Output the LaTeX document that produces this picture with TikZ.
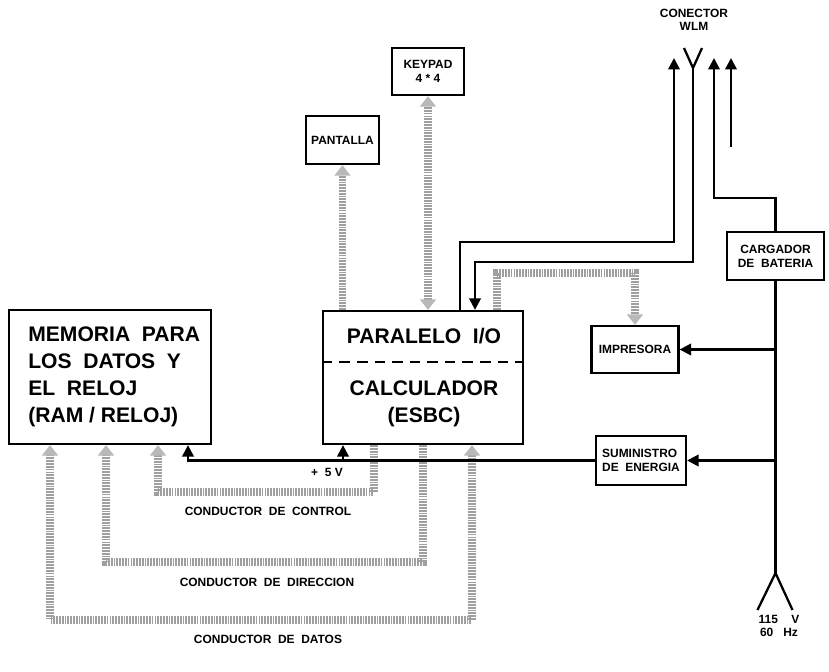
\documentclass[tikz,border=0pt]{standalone}
\usepackage{fontspec}
\setmainfont{Liberation Sans}
\usetikzlibrary{arrows.meta,positioning}

\begin{document}
\begin{tikzpicture}[x=0.02cm, y=-0.02cm,
    blockbox/.style={draw, line width=1.3pt, inner sep=0pt, align=center,
        font=\bfseries\fontsize{6.8}{7.8}\selectfont},
    bigtext/.style={font=\bfseries\fontsize{12}{15.4}\selectfont, inner sep=0pt},
    labeltext/.style={font=\bfseries\fontsize{6.8}{7.6}\selectfont, align=center, inner sep=0pt},
    wireline/.style={line width=1.3pt},
    wirehead/.style={-{Triangle[width=6.5pt,length=6.5pt]}},
    busline/.style={line width=4.2pt, gray!75, dash pattern=on 1pt off 0.6pt},
    busarrow/.style={-{Triangle[width=9pt,length=6pt,color=gray!55]}},
    busboth/.style={{Triangle[width=9pt,length=6pt,color=gray!55]}-{Triangle[width=9pt,length=6pt,color=gray!55]}}
]
    \useasboundingbox (0,0) rectangle (829,672);

    % Main blocks
    \node[blockbox, minimum width=4.04cm, minimum height=2.68cm] (mem) at (110,377) {};
    \node[bigtext, align=left, anchor=west] (memtxt) at (28,377)
        {MEMORIA\ \ PARA\\LOS\ \ DATOS\ \ Y\\EL\ \ RELOJ\\(RAM / RELOJ)};
    \node[blockbox, minimum width=4cm, minimum height=2.66cm] (calc) at (423,377.5) {};
    \draw[line width=1pt, dash pattern=on 6pt off 4pt] (calc.west |- 0,362) -- (calc.east |- 0,362);
    \node[bigtext] (pio) at (424,336) {PARALELO\ \ I/O};
    \node[bigtext, align=center] (esbc) at (424,404) {CALCULADOR\\(ESBC)};

    % Peripheral blocks
    \node[blockbox, minimum width=1.46cm, minimum height=0.96cm] (pant) at (342.5,140) {PANTALLA};
    \node[blockbox, minimum width=1.44cm, minimum height=0.94cm] (keyp) at (428,71.5) {KEYPAD\\4 * 4};
    \node[blockbox, minimum width=1.74cm, minimum height=0.94cm] (impr) at (635,349.5) {IMPRESORA};
    \node[blockbox, minimum width=1.8cm, minimum height=0.98cm, align=left] (sumin) at (641,460.5)
        {SUMINISTRO\\DE\ \ ENERGIA};
    \node[blockbox, minimum width=1.94cm, minimum height=0.96cm] (carg) at (775.5,256)
        {CARGADOR\\DE\ \ BATERIA};

    % Connector and mains labels
    \node[labeltext] (wlm) at (694,20) {CONECTOR\\WLM};
    \node[labeltext] (mains) at (779,626) {115\ \ \ \ V\\60\ \ \ Hz};

    % Data buses (dotted bands)
    \draw[busline, busarrow] (calc.north -| pant.south) -- (pant.south);
    \draw[busline, busboth] (calc.north -| keyp.south) -- (keyp.south);
    \coordinate (prtbend) at (497,273);
    \draw[busline, busarrow] (calc.north -| prtbend) -- (prtbend) -| (impr.north);

    \coordinate (ctlA) at (374,492);
    \coordinate (ctlB) at (158,492);
    \draw[busline, busarrow] (calc.south -| ctlA) -- (ctlA) -- (ctlB) -- (mem.south -| ctlB);
    \coordinate (adrA) at (423,562);
    \coordinate (adrB) at (106,562);
    \draw[busline, busarrow] (calc.south -| adrA) -- (adrA) -- (adrB) -- (mem.south -| adrB);
    \coordinate (datA) at (472,620);
    \coordinate (datB) at (50,620);
    \draw[busline, busboth] (calc.south -| datA) -- (datA) -- (datB) -- (mem.south -| datB);

    \node[labeltext] (ctllbl) at (268,511) {CONDUCTOR\ \ DE\ \ CONTROL};
    \node[labeltext] (adrlbl) at (267,582) {CONDUCTOR\ \ DE\ \ DIRECCION};
    \node[labeltext] (datlbl) at (268,639) {CONDUCTOR\ \ DE\ \ DATOS};

    % +5 V supply
    \draw[wireline, wirehead] (sumin.west) -| (mem.south -| 188,0);
    \draw[wireline, wirehead] (sumin.west -| 343,0) -- (calc.south -| 343,0);
    \node[labeltext] (vlbl) at (327,472) {+\ \ 5 V};

    % Mains and charger
    \coordinate (plug) at (carg.south |- 0,573);
    \draw[wireline] (carg.south) -- (plug);
    \draw[wireline] (plug) -- ++(-18,37) (plug) -- ++(17,37);
    \draw[wireline, wirehead] (impr.east -| carg.south) -- (impr.east);
    \draw[wireline, wirehead] (sumin.east -| carg.south) -- (sumin.east);

    % WLM connector
    \coordinate (ant) at (693,68);
    \draw[wireline] (ant) -- ++(-9,-20) (ant) -- ++(9,-20);
    \coordinate (wlmout) at (674,58);
    \coordinate (outbend) at (460,242);
    \draw[wireline, wirehead] (calc.north -| outbend) -- (outbend) -| (wlmout);
    \coordinate (inbend) at (475,262);
    \draw[wireline, wirehead] (ant) |- (inbend) -- (calc.north -| inbend);
    \coordinate (chgout) at (714,58);
    \coordinate (chgbend) at (714,198);
    \draw[wireline, wirehead] (carg.north) |- (chgbend) -- (chgout);
    \coordinate (sparein) at (731,147);
    \coordinate (spareout) at (731,58);
    \draw[wireline, wirehead] (sparein) -- (spareout);
\end{tikzpicture}
\end{document}
